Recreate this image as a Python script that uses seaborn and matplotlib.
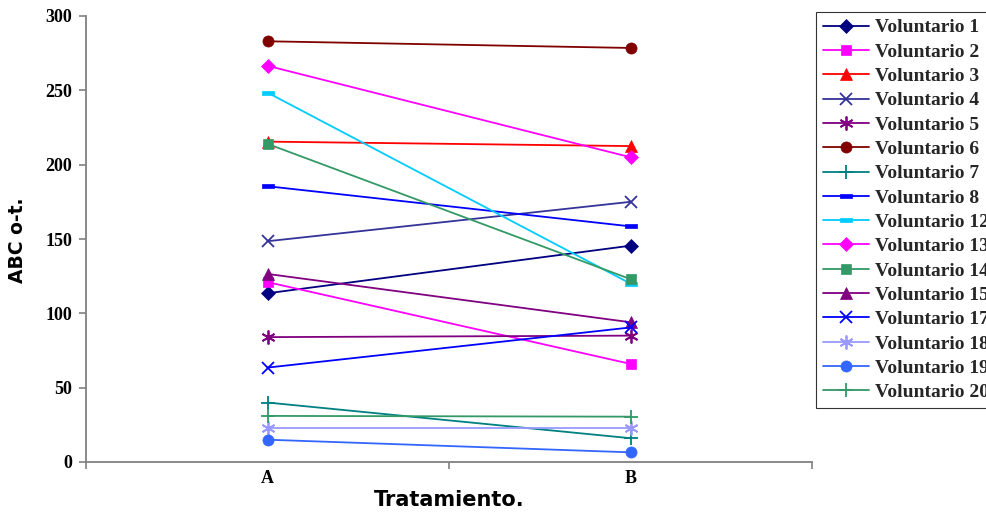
import matplotlib
matplotlib.use("Agg")
import matplotlib.pyplot as plt
import seaborn as sns
import pandas as pd

# Treatment categories on the x axis
tratamientos = ["A", "B"]

# AUC values per volunteer (treatment A, treatment B)
voluntario_1 = [113.5, 145.5]
voluntario_2 = [121.0, 66.0]
voluntario_3 = [215.5, 212.5]
voluntario_4 = [148.5, 175.0]
voluntario_5 = [84.0, 85.0]
voluntario_6 = [283.0, 278.5]
voluntario_7 = [40.0, 16.0]
voluntario_8 = [185.5, 158.5]
voluntario_12 = [248.5, 120.0]
voluntario_13 = [266.5, 205.0]
voluntario_14 = [214.0, 123.0]
voluntario_15 = [126.5, 94.0]
voluntario_17 = [63.5, 90.5]
voluntario_18 = [23.0, 23.0]
voluntario_19 = [15.0, 6.5]
voluntario_20 = [31.0, 30.5]

nombres = ["Voluntario 1", "Voluntario 2", "Voluntario 3", "Voluntario 4",
           "Voluntario 5", "Voluntario 6", "Voluntario 7", "Voluntario 8",
           "Voluntario 12", "Voluntario 13", "Voluntario 14", "Voluntario 15",
           "Voluntario 17", "Voluntario 18", "Voluntario 19", "Voluntario 20"]
valores = [voluntario_1, voluntario_2, voluntario_3, voluntario_4,
           voluntario_5, voluntario_6, voluntario_7, voluntario_8,
           voluntario_12, voluntario_13, voluntario_14, voluntario_15,
           voluntario_17, voluntario_18, voluntario_19, voluntario_20]

# Marker shapes
asterisco = (6, 2, 0)
guion = [(-1, -0.35), (1, -0.35), (1, 0.35), (-1, 0.35), (-1, -0.35)]

estilos = {
    "Voluntario 1": ("#000080", "D", 7, True),
    "Voluntario 2": ("#FF00FF", "s", 7, True),
    "Voluntario 3": ("#FF0000", "^", 9, True),
    "Voluntario 4": ("#333399", "x", 9, False),
    "Voluntario 5": ("#800080", asterisco, 10, False),
    "Voluntario 6": ("#800000", "o", 8, True),
    "Voluntario 7": ("#008080", "+", 10, False),
    "Voluntario 8": ("#0000FF", guion, 8, True),
    "Voluntario 12": ("#00CCFF", guion, 9, True),
    "Voluntario 13": ("#FF00FF", "D", 7, True),
    "Voluntario 14": ("#339966", "s", 7, True),
    "Voluntario 15": ("#800080", "^", 9, True),
    "Voluntario 17": ("#0000FF", "x", 9, False),
    "Voluntario 18": ("#9999FF", asterisco, 10, False),
    "Voluntario 19": ("#3366FF", "o", 8, True),
    "Voluntario 20": ("#339966", "+", 10, False),
}

sns.set_theme(style="white")
plt.rcParams["font.family"] = ["DejaVu Sans"]

fig = plt.figure(figsize=(9.87, 5.14), dpi=100)
ax = fig.add_axes([86 / 987, 1 - 462 / 514, (812 - 86) / 987, (462 - 16) / 514])

posiciones = list(range(len(tratamientos)))
for nombre, vals in zip(nombres, valores):
    color, marcador, tam, relleno = estilos[nombre]
    df = pd.DataFrame({"x": posiciones, "y": vals})
    sns.lineplot(data=df, x="x", y="y", ax=ax, color=color, linewidth=1.3,
                 marker=marcador, markersize=tam,
                 markerfacecolor=color if relleno else "none",
                 markeredgecolor=color, markeredgewidth=1.3 if not relleno else 0.5,
                 label=nombre, clip_on=False)

ax.set_xlim(-0.5, 1.5)
ax.set_ylim(0, 300)
ax.set_yticks([0, 50, 100, 150, 200, 250, 300])
ax.set_xticks([-0.5, 0.5, 1.5])
ax.set_xticklabels([])
ax.set_xticks(posiciones, minor=True)
ax.set_xticklabels(tratamientos, minor=True)

for lbl in ax.get_yticklabels() + ax.get_xticklabels(minor=True):
    lbl.set_fontfamily("Liberation Serif")
    lbl.set_fontweight("bold")
    lbl.set_fontsize(13)
    lbl.set_color("black")

ax.tick_params(axis="y", which="major", direction="out", length=5, width=1.2,
               color="#808080", pad=5, left=True)
ax.tick_params(axis="x", which="major", direction="out", length=5, width=1.2,
               color="#808080", bottom=True)
ax.tick_params(axis="x", which="minor", length=0, pad=6)

for side in ["top", "right"]:
    ax.spines[side].set_visible(False)
for side in ["left", "bottom"]:
    ax.spines[side].set_color("#808080")
    ax.spines[side].set_linewidth(1.3)

ax.set_xlabel("")
ax.set_ylabel("")
fig.text(449 / 987, 1 - 500 / 514, "Tratamiento.", fontsize=15,
         fontweight="heavy", ha="center", va="center", color="black")
fig.text(18 / 987, 1 - 240 / 514, "ABC o-t.", fontsize=13.5, rotation=90,
         fontweight="heavy", ha="center", va="center", color="black")

leg = ax.legend(loc="upper left", bbox_to_anchor=(816 / 987, 1 - 12 / 514),
                bbox_transform=fig.transFigure, frameon=True, fancybox=False,
                prop={"family": "Liberation Serif", "weight": "bold", "size": 14},
                handlelength=2.4, handletextpad=0.3, labelspacing=0.345,
                borderpad=0.35, borderaxespad=0)
leg.get_frame().set_edgecolor("black")
leg.get_frame().set_linewidth(0.8)

fig.savefig("out.png", dpi=100)
